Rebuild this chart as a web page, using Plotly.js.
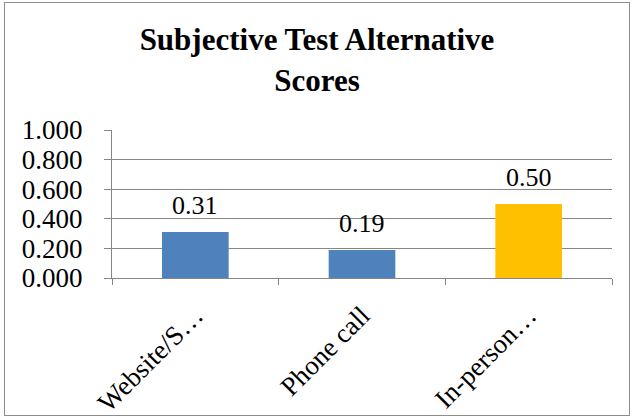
<!DOCTYPE html>
<html><head><meta charset="utf-8">
<script src="https://cdn.plot.ly/plotly-3.0.1.min.js"></script>
<style>
body{margin:0;background:#fff;}
#frame{position:absolute;left:4px;top:2px;width:626px;height:414px;border:1px solid #8c8c8c;box-sizing:border-box;}
#chart{position:absolute;left:0;top:0;width:634px;height:420px;}
</style></head>
<body>
<div id="frame"></div>
<div id="chart"></div>
<script>
const categories = ["Website/S…", "Phone call", "In-person…"];
const scores = [0.31, 0.19, 0.50];
const barColors = ["#4F81BD", "#4F81BD", "#FFC000"];
const yTicks = [0, 0.2, 0.4, 0.6, 0.8, 1.0];
const yTickText = ["0.000", "0.200", "0.400", "0.600", "0.800", "1.000"];

const font = "Liberation Serif";
const trace = {
  type: "bar",
  x: categories,
  y: scores,
  marker: {color: barColors},
  width: 0.4,
  hoverinfo: "none"
};
const labels = categories.map((c, i) => ({
  x: c, y: scores[i], xref: "x", yref: "y",
  text: scores[i].toFixed(2), showarrow: false,
  yanchor: "bottom", yshift: 10,
  font: {family: font, size: 26, color: "#000"}
}));
const layout = {
  width: 634, height: 420,
  margin: {l: 112, r: 22, t: 130, b: 142},
  paper_bgcolor: "rgba(0,0,0,0)",
  plot_bgcolor: "rgba(0,0,0,0)",
  showlegend: false,
  annotations: labels,
  title: {
    text: "<b>Subjective Test Alternative<br>Scores</b>",
    font: {family: font, size: 31, color: "#000"},
    x: 0.5, xanchor: "center", y: 0.88, yanchor: "top"
  },
  xaxis: {
    type: "category",
    tickangle: -45,
    ticks: "outside", ticklen: 6, tickcolor: "#868686", tickwidth: 1,
    tickson: "boundaries",
    ticklabelstandoff: 10,
    showline: true, linecolor: "#868686", linewidth: 1,
    showgrid: false,
    tickfont: {family: font, size: 27, color: "#000"}
  },
  yaxis: {
    range: [0, 1.0],
    tickvals: yTicks, ticktext: yTickText,
    ticks: "outside", ticklen: 7, tickcolor: "#868686",
    ticklabelstandoff: 16,
    showline: true, linecolor: "#868686", linewidth: 1,
    showgrid: true, gridcolor: "#868686", gridwidth: 1,
    zeroline: false,
    tickfont: {family: font, size: 27, color: "#000"}
  },
  bargap: 0.6
};
Plotly.newPlot("chart", [trace], layout, {displayModeBar: false, staticPlot: true});
</script>
</body></html>
